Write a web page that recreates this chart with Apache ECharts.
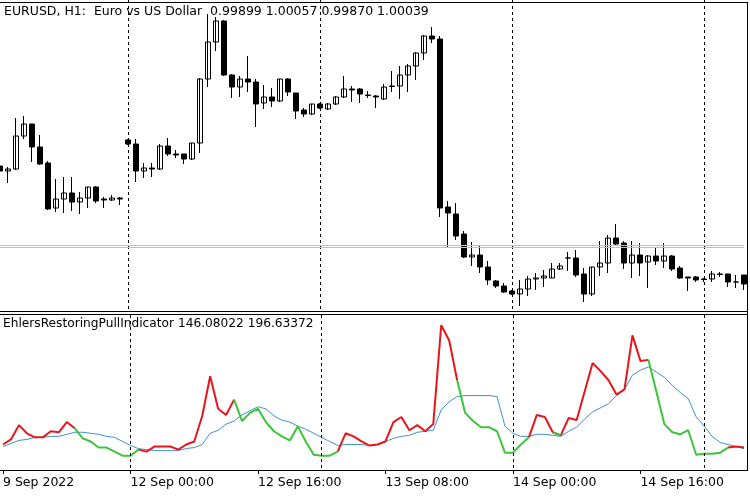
<!DOCTYPE html>
<html><head><meta charset="utf-8">
<script src="https://cdn.jsdelivr.net/npm/echarts@6/dist/echarts.min.js"></script>
<style>html,body{margin:0;padding:0;background:#fff}#c{width:750px;height:500px}</style>
</head><body><div id="c"></div>
<script>
// Price pane values are read as vertical positions (top = high price), axis inverted.
const open  = [166,171,169,136,124,147,163,208,199,193,202,198,187,199,200,198,140,144,171,168,169,146,154,154,159,143,79,42,21,75,87,79,82,103,97,101,79,93,110,114,104,109,104,97,89,89,95,96,99,86,86,75,66,53,36,39,207,214,234,257,255,267,281,286,291,294,289,279,278,278,269,258,258,274,294,267,263,238,243,263,255,262,256,261,256,268,277,277,279,279,274,274,282,275];
const close = [171,169,136,124,147,164,209,199,193,202,198,187,201,200,198,199,144,171,168,169,146,154,155,159,143,79,42,21,75,87,79,82,104,97,101,79,92,111,114,104,108,104,97,89,90,94,95.5,97,87,86.5,75,66,53,36,39,208,213,236,257,255,267,280,286,292,294,289,279,278,276,269,266,258,275,294,267,263,238,244,263,255,263,256,261,256,269,278,278,280,279.5,274,274.5,282,282,284];
const low   = [172,183,170,139,162,165,210,212,213,211,214,208,203,208,201,205,145,182,178,177,170,156,158,164,160,153,87,51,76,98,97,92,127,109,107,102,96,119,117,115,109,110,105,98,102,103,98,108,100,92,99,92,80,60,43,217,247,240,258,266,273,285,288,293,295,306,296,290,287,278,270,271,277,302,296,276,273,246,269,278,276,288,265,268,271,279,291,282,282,282,277,287,288,290];
const high  = [165,167,118,116,124,135,161,179,177,177,192,187,186,197,195,197,139,139,163,163,144,138,150,154,143,78,14,17,20,74,76,56,79,85,88,79,78,93,108,104,103,103,96,76,86,88,91,95,84,71,66,64,52,35,27,36,201,203,231,242,245,261,280,283,290,280,276,273,270,263,263,252,250,268,267,241,235,224,241,241,243,255,247,243,255,266,277,276,278,271,272,274,275,275];
const pull  = [445,440,426,434,438,438,432,433,423,429,439,442,448,448,452,456,456,450,452,447,447,447,450,445,442,417,378,410,416,401,422,414,410,423,432,437,441,427,442,455,456,456,452,434,437,442,446,445,442,423,418,431,426,432,425,328,343,382,414,422,428,428,432,453,453,445,438,416,418,433,436,419,421,393,365,373,382,396,391,338,363,362,393,425,433,435,431,455,454,454,453,448,447,448];
const signal= [447,444,441,440,438,438,437,437,435,433,433,434,435,437,438,442,446,449,450,451,451,451,451,449,448,445,434,431,425,422,416,412,408,410,417,421,423,427,430,434,438,442,446,445,445,445,446,445,442,439,437,436,433,432,431,411,403,398,397,397,397,397,398,427,434,437,437,435,435,436,437,432,428,420,413,409,405,397,391,377,372,369,374,379,387,394,400,418,427,437,443,445,447,449];
// segment colour runs: [startSegment, endSegment, colour]
const segRuns = [[0,8,'R'],[9,16,'G'],[17,28,'R'],[29,41,'G'],[42,56,'R'],[57,65,'G'],[66,68,'R'],[69,69,'G'],[70,80,'R'],[81,90,'G'],[91,92,'R']];
const tickIdx = [0,16,32,48,64,80];
const tickLabels = ['9 Sep 2022','12 Sep 00:00','12 Sep 16:00','13 Sep 08:00','14 Sep 00:00','14 Sep 16:00'];
const daySep = [16,40,64,88];

const n = open.length;
const cats = open.map((_, i) => String(i));
const segCol = [];
segRuns.forEach(r => { for (let s = r[0]; s <= r[1]; s++) segCol[s] = r[2]; });
const red = [], green = [];
for (let i = 0; i < n; i++) {
  const a = segCol[i - 1], b = segCol[i];
  red.push(a === 'R' || b === 'R' ? pull[i] : null);
  green.push(a === 'G' || b === 'G' ? pull[i] : null);
}
const candles = open.map((o, i) => [o, close[i], low[i], high[i]]);
const font = 'DejaVu Sans';
const sepLines = {silent: true, symbol: 'none', label: {show: false},
  lineStyle: {type: [3, 3], color: '#000', width: 1},
  data: daySep.map(d => ({xAxis: d}))};

const chart = echarts.init(document.getElementById('c'), null, {renderer: 'canvas'});
chart.setOption({
  animation: false,
  backgroundColor: '#fff',
  grid: [
    {left: 0, width: 744, top: 0, height: 310},
    {left: 0, width: 744, top: 315, height: 155}
  ],
  xAxis: [
    {type: 'category', data: cats, gridIndex: 0, boundaryGap: false,
     axisLine: {show: false}, axisTick: {show: false}, axisLabel: {show: false}, splitLine: {show: false}},
    {type: 'category', data: cats, gridIndex: 1, boundaryGap: false,
     axisLine: {show: false},
     axisTick: {show: true, length: 4, lineStyle: {color: '#000'},
       interval: (i) => tickIdx.includes(i)},
     axisLabel: {show: true, interval: (i) => tickIdx.includes(i), align: 'left', margin: 6,
       color: '#000', fontFamily: font, fontSize: 12.5,
       formatter: (v, i) => tickLabels[tickIdx.indexOf(i)] || ''},
     splitLine: {show: false}}
  ],
  yAxis: [
    {type: 'value', gridIndex: 0, min: 0, max: 310, inverse: true, show: false, splitLine: {show: false}},
    {type: 'value', gridIndex: 1, min: 318, max: 470, inverse: true, show: false, splitLine: {show: false}}
  ],
  series: [
    {type: 'candlestick', xAxisIndex: 0, yAxisIndex: 0, data: candles, barWidth: 5,
     itemStyle: {color: '#000', color0: '#fff', borderColor: '#000', borderColor0: '#000', borderWidth: 1},
     markLine: {silent: true, symbol: 'none', label: {show: false},
       data: [
         ...daySep.map(d => ({xAxis: d, lineStyle: {type: [3, 3], color: '#000', width: 1}})),
         {yAxis: 245, lineStyle: {type: 'solid', color: '#c0c0c0', width: 1}},
         {yAxis: 247, lineStyle: {type: 'solid', color: '#c0c0c0', width: 1}}
       ]}},
    {type: 'line', xAxisIndex: 1, yAxisIndex: 1, data: signal, symbol: 'none',
     lineStyle: {color: '#3d8fd6', width: 1}, markLine: sepLines, z: 2},
    {type: 'line', xAxisIndex: 1, yAxisIndex: 1, data: red, symbol: 'none', connectNulls: false,
     lineStyle: {color: '#e8161b', width: 2}, z: 3},
    {type: 'line', xAxisIndex: 1, yAxisIndex: 1, data: green, symbol: 'none', connectNulls: false,
     lineStyle: {color: '#3cc43a', width: 2}, z: 3}
  ],
  graphic: [
    {type: 'line', shape: {x1: 0, y1: 2.5, x2: 748, y2: 2.5}, style: {stroke: '#000', lineWidth: 1}, silent: true},
    {type: 'line', shape: {x1: 747.5, y1: 2, x2: 747.5, y2: 470}, style: {stroke: '#000', lineWidth: 1}, silent: true},
    {type: 'line', shape: {x1: 0, y1: 311.5, x2: 748, y2: 311.5}, style: {stroke: '#000', lineWidth: 1}, silent: true},
    {type: 'line', shape: {x1: 0, y1: 314.5, x2: 748, y2: 314.5}, style: {stroke: '#000', lineWidth: 1}, silent: true},
    {type: 'line', shape: {x1: 0, y1: 470.5, x2: 748, y2: 470.5}, style: {stroke: '#000', lineWidth: 1}, silent: true},
    {type: 'text', left: 4, top: 5, z: 10, style: {text: 'EURUSD, H1:  Euro vs US Dollar  0.99899 1.00057 0.99870 1.00039', fill: '#000', font: '12.5px "DejaVu Sans"'}},
    {type: 'text', left: 3, top: 318, z: 10, style: {text: 'EhlersRestoringPullIndicator 146.08022 196.63372', fill: '#000', font: '12.2px "DejaVu Sans"'}}
  ]
});
</script></body></html>
